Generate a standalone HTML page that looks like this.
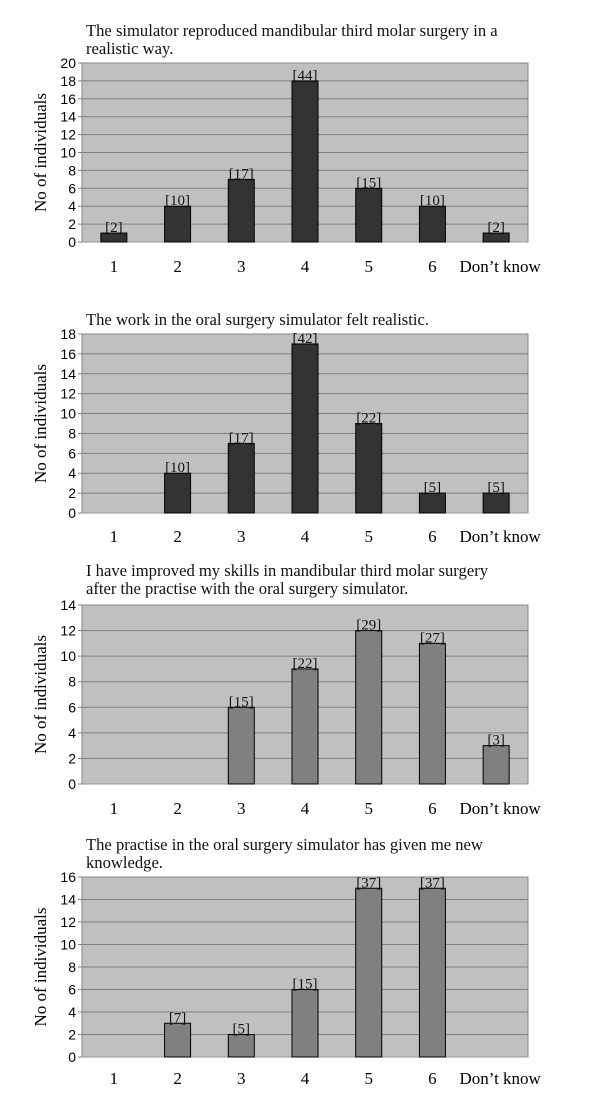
<!DOCTYPE html>
<html><head><meta charset="utf-8"><style>
body{margin:0;background:#fff;width:600px;height:1106px;overflow:hidden}
svg{display:block}
</style></head><body>
<svg id="s" width="600" height="1106" xmlns="http://www.w3.org/2000/svg"></svg>
<script>
const categories = ["1","2","3","4","5","6","Don\u2019t know"];
const values1 = [1,4,7,18,6,4,1];
const labels1 = ["[2]","[10]","[17]","[44]","[15]","[10]","[2]"];
const values2 = [0,4,7,17,9,2,2];
const labels2 = ["","[10]","[17]","[42]","[22]","[5]","[5]"];
const values3 = [0,0,6,9,12,11,3];
const labels3 = ["","","[15]","[22]","[29]","[27]","[3]"];
const values4 = [0,3,2,6,15,15,0];
const labels4 = ["","[7]","[5]","[15]","[37]","[37]",""];
const yMax = [20,18,14,16];
const titles = [
 ["The simulator reproduced mandibular third molar surgery in a","realistic way."],
 ["The work in the oral surgery simulator felt realistic."],
 ["I have improved my skills in mandibular third molar surgery","after the practise with the oral surgery simulator."],
 ["The practise in the oral surgery simulator has given me new","knowledge."]
];
const allValues=[values1,values2,values3,values4];
const allLabels=[labels1,labels2,labels3,labels4];
const layout=[
 {top:63,bottom:242,titleY:[36,54],xl:272,color:"#333333"},
 {top:334,bottom:513,titleY:[325],xl:542,color:"#333333"},
 {top:605,bottom:784,titleY:[576,594],xl:814,color:"#808080"},
 {top:877,bottom:1057,titleY:[850,868],xl:1084,color:"#808080"}
];
const NS="http://www.w3.org/2000/svg";
const svg=document.getElementById('s');
function mk(tag,attrs,parent){const e=document.createElementNS(NS,tag);for(const k in attrs)e.setAttribute(k,attrs[k]);(parent||svg).appendChild(e);return e;}
const L=82,R=528,cw=(R-L)/categories.length,bw=26;
layout.forEach((ly,i)=>{
 const g=mk('g',{});
 
 
 const ys=v=>ly.bottom-(v/yMax[i])*(ly.bottom-ly.top);
 const xs=j=>L+cw*(j+0.5);
 ly.titleY.forEach((ty,k)=>{const t=mk('text',{x:86,y:ty,'font-family':'Liberation Serif, serif','font-size':'16.6',fill:'#111'},g);t.textContent=titles[i][k];
  
  });
 const bg=mk('rect',{x:L,y:ly.top,width:R-L,height:ly.bottom-ly.top,fill:'#c0c0c0',stroke:'#888','stroke-width':1},g);
 
 
 for(let v=0;v<=yMax[i];v+=2){
  const y=ys(v);
  if(v>0&&v<yMax[i]) mk('line',{x1:L,x2:R,y1:y,y2:y,stroke:'#808080','stroke-width':1},g);
  mk('line',{x1:L-4,x2:L,y1:y,y2:y,stroke:'#808080'},g);
  const t=mk('text',{x:L-6,y:y+5,'text-anchor':'end','font-family':'Liberation Sans, sans-serif','font-size':'14',fill:'#000'},g);t.textContent=v;
  
  
 }
 mk('line',{x1:L,x2:R,y1:ly.bottom,y2:ly.bottom,stroke:'#999'},g);
 const yt=mk('text',{x:0,y:0,transform:`translate(46,${(ly.top+ly.bottom)/2}) rotate(-90)`,'text-anchor':'middle','font-family':'Liberation Serif, serif','font-size':'17',fill:'#000'},g);
 yt.textContent='No of individuals';
 
 
 categories.forEach((c,j)=>{
  const v=allValues[i][j];
  if(v>0){
   const b=mk('rect',{x:xs(j)-bw/2,y:ys(v),width:bw,height:ly.bottom-ys(v),fill:ly.color,stroke:'#000','stroke-width':1},g);
   
   
  }
  const lab=allLabels[i][j];
  if(lab){const t=mk('text',{x:xs(j),y:ys(v)-1,'text-anchor':'middle','font-family':'Liberation Serif, serif','font-size':'15',fill:'#111'},g);t.textContent=lab;
   
   }
  const xt=mk('text',{x:j===6?xs(j)+4:xs(j),y:ly.xl,'text-anchor':'middle','font-family':'Liberation Serif, serif','font-size':'17',fill:'#000'},g);
  xt.textContent=c;
  
  
 });
});
</script>
</body></html>
